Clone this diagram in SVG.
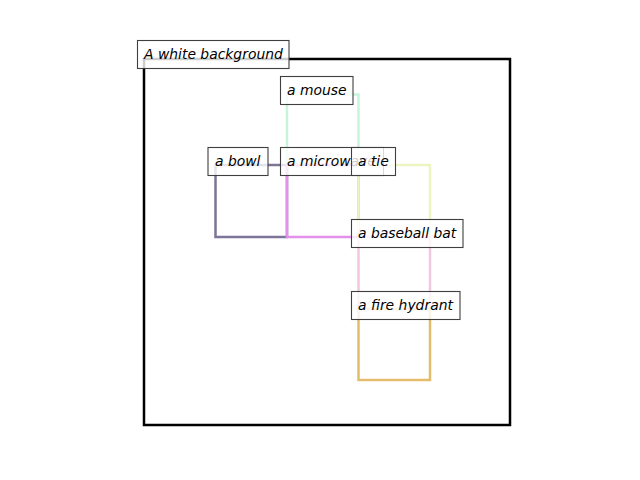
<svg xmlns="http://www.w3.org/2000/svg" width="640" height="480" viewBox="0 0 640 480">
<style>
.box{fill:none;stroke-width:2.5}
.lbl rect{fill:#ffffff;fill-opacity:0.8;stroke:#3f3f3f;stroke-width:1.1}
.lbl text{font-family:"DejaVu Sans",sans-serif;font-style:italic;font-size:13.9px;fill:#000}
</style>
<rect width="640" height="480" fill="#ffffff"/>
<g id="connectors"></g>
<g id="boxes">
<rect id="bg-box" class="box" x="144" y="59" width="366" height="366" stroke="#000000" stroke-width="2.2"/>
<rect id="mouse-box" class="box" x="287" y="94.5" width="71.5" height="70.5" stroke="#c8f5d8"/>
<rect id="bowl-box" class="box" x="215.5" y="165" width="71.5" height="72" stroke="#7e7498"/>
<rect id="microwave-box" class="box" x="287" y="165" width="71.5" height="72" stroke="#e290ea"/>
<rect id="tie-box" class="box" x="358.5" y="165" width="71.5" height="72" stroke="#eaf5c2"/>
<rect id="bat-box" class="box" x="358.5" y="237" width="71.5" height="72" stroke="#f0c8e2"/>
<rect id="hydrant-box" class="box" x="358.5" y="309" width="71.5" height="71" stroke="#e3bc6e"/>
</g>
<g id="label-background" class="lbl"><rect x="137.5" y="40.5" width="151.5" height="28"/><text x="144" y="59">A white background</text></g>
<g id="label-mouse" class="lbl"><rect x="280.5" y="76.5" width="72.5" height="28"/><text x="287" y="95">a mouse</text></g>
<g id="label-bowl" class="lbl"><rect x="208" y="147.5" width="60" height="28"/><text x="215" y="166">a bowl</text></g>
<g id="label-microwave" class="lbl"><rect x="280.5" y="147.5" width="103" height="28"/><text x="287" y="166">a microwave</text></g>
<g id="label-tie" class="lbl"><rect x="351.5" y="147.5" width="44" height="28"/><text x="358" y="166">a tie</text></g>
<g id="label-bat" class="lbl"><rect x="351.5" y="219.5" width="111.5" height="28"/><text x="358" y="238">a baseball bat</text></g>
<g id="label-hydrant" class="lbl"><rect x="351.5" y="291.5" width="108.5" height="28"/><text x="358" y="310">a fire hydrant</text></g>
</svg>
